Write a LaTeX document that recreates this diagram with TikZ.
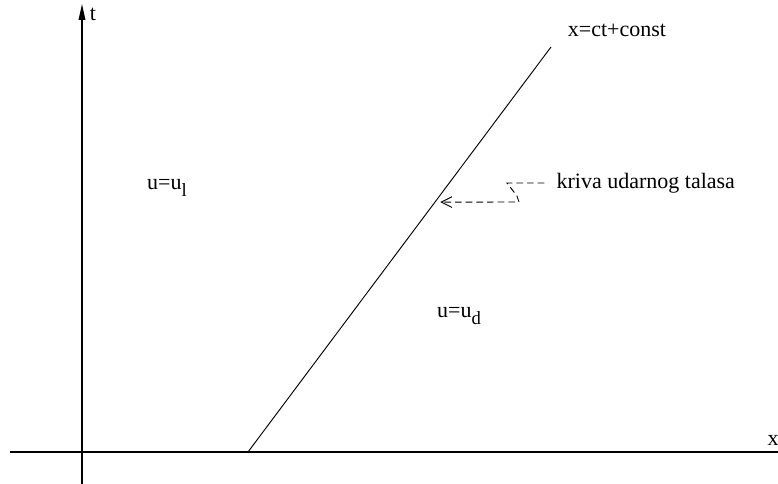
\documentclass[tikz,border=0pt]{standalone}
\usepackage{fontspec}
\setmainfont{Liberation Serif}
\usetikzlibrary{arrows.meta,positioning,calc}
\newcommand{\lowsub}[1]{\raisebox{-5pt}{\fontsize{14}{16}\selectfont #1}}

\begin{document}
\begin{tikzpicture}[
  x=0.75pt,y=-0.75pt,
  every node/.style={font=\fontsize{16.5}{20}\selectfont,inner sep=1pt},
  axis/.style={line width=0.9pt},
  shock/.style={line width=0.7pt},
  pointer/.style={dashed,line width=0.7pt,dash pattern=on 5pt off 3pt,
                  -{Straight Barb[length=8pt,width=8pt,line width=0.7pt]}}
]
\useasboundingbox (0,0) rectangle (778,484);
% axes
\coordinate (xstart) at (10,452);
\coordinate (xend) at (778,452);
\coordinate (tstart) at (82,484);
\coordinate (tend) at (82,4);
\draw[axis] (xstart) -- (xend);
\draw[axis,-{Triangle[length=12pt,width=5pt]}] (tstart) -- (tend);
\node (tlabel) at (93,14) {t};
\node (xlabel) at (773,440) {x};
% shock line
\coordinate (foot) at (248,452);
\coordinate (top) at (551,47);
\draw[shock] (foot) -- (top);
\node (eq) at (617,30) {x=ct+const};
% regions
\node (left) at (167,188) {u=u\lowsub{l}};
\node (right) at (459,316) {u=u\lowsub{d}};
% label with pointer
\node[anchor=west] (kriva) at (555,183) {kriva udarnog talasa};
\coordinate (hit) at ($(foot)!0.617!(top)$);
\draw[pointer,shorten >=4pt,shorten <=8pt] (kriva.west) -- (507,183) -- (517,196) -- (519,202) -- (hit);
\end{tikzpicture}
\end{document}
